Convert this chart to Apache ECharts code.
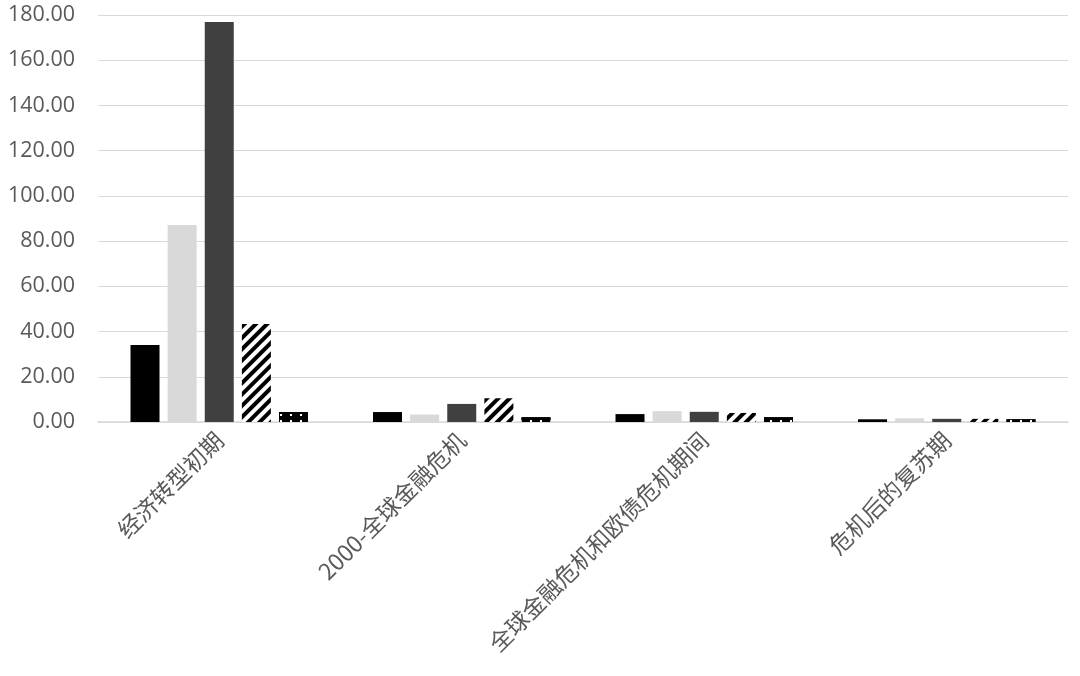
<!DOCTYPE html>
<html>
<head>
<meta charset="utf-8">
<script src="https://cdn.jsdelivr.net/npm/echarts@6/dist/echarts.min.js"></script>
<style>
html,body{margin:0;padding:0;background:#fff;}
#chart{width:1080px;height:676px;}
</style>
</head>
<body>
<div id="chart"></div>
<script>
const categories = ['经济转型初期', '2000-全球金融危机', '全球金融危机和欧债危机期间', '危机后的复苏期'];
const seriesA = [34.1, 4.4, 3.5, 1.2];
const seriesB = [87.1, 3.3, 4.8, 1.6];
const seriesC = [176.9, 8.0, 4.5, 1.4];
const seriesD = [43.3, 10.5, 4.0, 1.4];
const seriesE = [4.4, 2.1, 2.1, 1.2];
const yTicks = { min: 0, max: 180, interval: 20 };

const chart = echarts.init(document.getElementById('chart'), null, { renderer: 'canvas' });
const barW = 29;
const option = {
  animation: false,
  backgroundColor: '#ffffff',
  grid: { left: 98, right: 12, top: 15, bottom: 254, containLabel: false },
  xAxis: {
    type: 'category',
    data: categories,
    axisLine: { show: true, lineStyle: { color: '#d9d9d9', width: 1.5 } },
    axisTick: { show: false },
    axisLabel: {
      rotate: 45,
      interval: 0,
      margin: 14,
      color: '#595959',
      fontSize: 23,
      fontFamily: 'Noto Sans CJK SC'
    }
  },
  yAxis: {
    type: 'value',
    min: yTicks.min,
    max: yTicks.max,
    interval: yTicks.interval,
    axisLine: { show: false },
    axisTick: { show: false },
    splitLine: { lineStyle: { color: '#d9d9d9', width: 1.2 } },
    axisLabel: {
      formatter: v => v.toFixed(2),
      color: '#595959',
      fontSize: 21.5,
      fontFamily: 'Open Sans',
      margin: 23
    }
  },
  series: [
    { name: 'A', type: 'bar', data: seriesA, barWidth: barW, barGap: '28%',
      itemStyle: { color: '#000000' } },
    { name: 'B', type: 'bar', data: seriesB, barWidth: barW, barGap: '28%',
      itemStyle: { color: '#d9d9d9' } },
    { name: 'C', type: 'bar', data: seriesC, barWidth: barW, barGap: '28%',
      itemStyle: { color: '#404040' } },
    { name: 'D', type: 'bar', data: seriesD, barWidth: barW, barGap: '28%',
      itemStyle: { color: '#ffffff',
        decal: { symbol: 'rect', color: '#000000', backgroundColor: '#ffffff',
          dashArrayX: [1, 0], dashArrayY: [4, 4], rotation: -Math.PI / 4, symbolSize: 1 } } },
    { name: 'E', type: 'bar', data: seriesE, barWidth: barW, barGap: '28%',
      itemStyle: { color: '#000000',
        decal: { symbol: 'rect', color: '#ffffff', backgroundColor: '#000000',
          dashArrayX: [[2, 8]], dashArrayY: [2, 4], rotation: 0, symbolSize: 1 } } }
  ]
};
chart.setOption(option);
</script>
</body>
</html>
